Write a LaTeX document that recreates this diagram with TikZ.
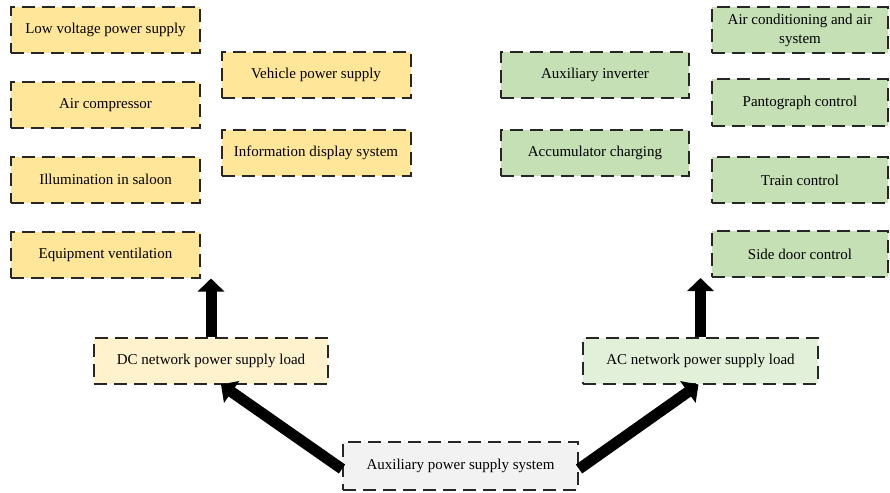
\documentclass[tikz,border=0pt]{standalone}
\usepackage{fontspec}
\setmainfont{Liberation Serif}
\usetikzlibrary{arrows.meta,calc}
\definecolor{dcload}{HTML}{FFE699}
\definecolor{dchead}{HTML}{FFF2CC}
\definecolor{acload}{HTML}{C5E0B4}
\definecolor{achead}{HTML}{E2F0D9}
\definecolor{srcfill}{HTML}{F2F2F2}
\definecolor{edge}{HTML}{262626}
\tikzset{
  box/.style={draw=edge, line width=2pt, dash pattern=on 13pt off 7pt,
    minimum height=46pt, inner sep=2pt, align=center,
    font=\fontsize{15}{19}\selectfont},
  dcitem/.style={box, fill=dcload, minimum width=189pt},
  acitem/.style={box, fill=acload, minimum width=188pt},
  fatarrow/.style={line width=11pt, -{Triangle[width=26pt,length=13pt]}}
}
\begin{document}
\begin{tikzpicture}[x=1pt,y=-1pt]
\useasboundingbox (0,0) rectangle (890,492);
% DC loads
\node[dcitem] (low)   at (105.5,30)  {Low voltage power supply};
\node[dcitem] (comp)  at (105.5,105) {Air compressor};
\node[dcitem] (illum) at (105.5,179.5) {Illumination in saloon};
\node[dcitem] (vent)  at (105.5,254.5) {Equipment ventilation};
\node[dcitem] (veh)   at (316,75)    {Vehicle power supply};
\node[dcitem] (info)  at (316,153)   {Information display system};
% AC loads
\node[acitem] (inv)   at (595,75)    {Auxiliary inverter};
\node[acitem] (acc)   at (595,153)   {Accumulator charging};
\node[acitem, minimum width=176pt] (aircon) at (800,30) {Air conditioning and air\\system};
\node[acitem, minimum width=176pt] (panto)  at (800,102.5) {Pantograph control};
\node[acitem, minimum width=176pt] (train)  at (800,180) {Train control};
\node[acitem, minimum width=176pt] (door)   at (800,254) {Side door control};
% network loads and source
\node[box, fill=dchead, minimum width=234pt] (dc)  at (211,360.5) {DC network power supply load};
\node[box, fill=achead, minimum width=235pt] (ac)  at (700.5,360.5) {AC network power supply load};
\node[box, fill=srcfill, minimum width=235pt, minimum height=48pt] (aux) at (460.5,466) {Auxiliary power supply system};
% power flow
\draw[fatarrow] (dc.north) -- (dc.north |- vent.south);
\draw[fatarrow] (ac.north) -- (ac.north |- door.south);
\draw[fatarrow] ([yshift=-3pt]aux.west) -- ([xshift=10pt]dc.south);
\draw[fatarrow] ([yshift=-3pt]aux.east) -- ([xshift=-2pt]ac.south);
\end{tikzpicture}
\end{document}
